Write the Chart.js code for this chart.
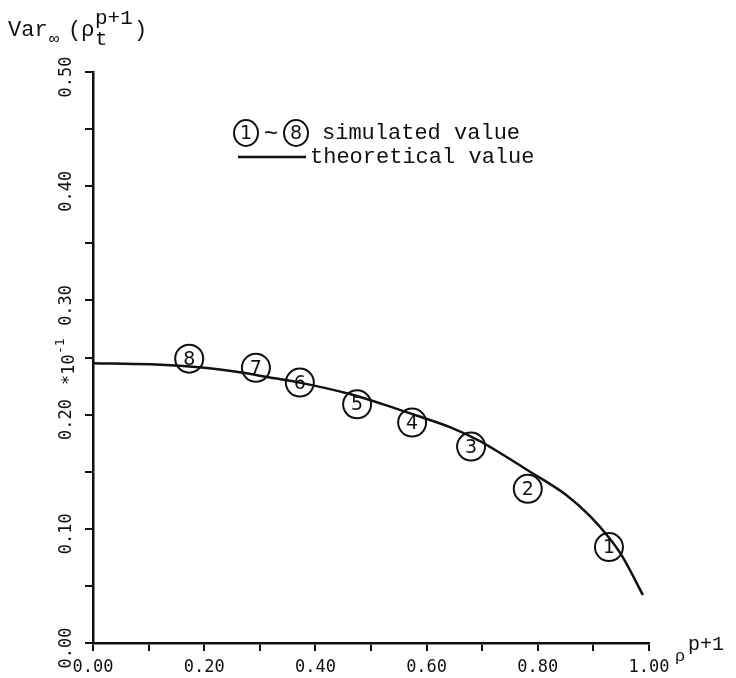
<!DOCTYPE html>
<html>
<head>
<meta charset="utf-8">
<script src="https://cdn.jsdelivr.net/npm/chart.js@4.4.0/dist/chart.umd.min.js"></script>
<style>
  html, body { margin: 0; padding: 0; background: #fff; }
</style>
</head>
<body>
<canvas id="varChart" width="736" height="678"></canvas>
<script>
// theoretical curve
const theoryRho = [0.00, 0.103, 0.20, 0.264, 0.313, 0.372, 0.462, 0.522, 0.583, 0.642, 0.695, 0.730, 0.786, 0.850, 0.894, 0.930, 0.953, 0.989];
const theoryVar = [0.245, 0.244, 0.241, 0.237, 0.233, 0.228, 0.218, 0.209, 0.199, 0.189, 0.177, 0.167, 0.150, 0.130, 0.111, 0.091, 0.075, 0.042];

// simulated values (1) ~ (8)
const simLabels = ['1', '2', '3', '4', '5', '6', '7', '8'];
const simRho = [0.928, 0.782, 0.680, 0.574, 0.475, 0.372, 0.293, 0.173];
const simVar = [0.084, 0.135, 0.172, 0.193, 0.209, 0.228, 0.241, 0.249];

// axis labels
const xTickLabels = ['0.00', '0.20', '0.40', '0.60', '0.80', '1.00'];
const yTickValues = [0.0, 0.1, 0.2, 0.3, 0.4, 0.5];
const yTickLabels = ['0.00', '0.10', '0.20', '0.30', '0.40', '0.50'];

const INK = '#111';
const tickFont = '17px "DejaVu Sans Mono", monospace';
const typeFont = '"Liberation Mono", "Courier New", monospace';

// text that Chart.js can't place where the figure has it
const annotations = {
  id: 'annotations',
  afterDraw(chart) {
    const ctx = chart.ctx;
    const ys = chart.scales.y;
    ctx.save();
    ctx.fillStyle = INK;
    ctx.strokeStyle = INK;

    // rotated y tick labels
    ctx.font = tickFont;
    ctx.textAlign = 'center';
    ctx.textBaseline = 'middle';
    yTickValues.forEach((v, i) => {
      const py = ys.getPixelForValue(v) + 5;
      ctx.save();
      ctx.translate(67, py);
      ctx.rotate(-Math.PI / 2);
      ctx.fillText(yTickLabels[i], 0, 0);
      ctx.restore();
    });

    // *10^-1
    ctx.save();
    ctx.translate(68, 360);
    ctx.rotate(-Math.PI / 2);
    ctx.textAlign = 'left';
    ctx.textBaseline = 'alphabetic';
    ctx.font = tickFont;
    ctx.fillText('*10', -25, 6);
    ctx.font = '13px "DejaVu Sans Mono", monospace';
    ctx.fillText('-1', 6, -4);
    ctx.restore();

    // digits in the simulated markers
    ctx.font = '19px "DejaVu Sans", sans-serif';
    ctx.textAlign = 'center';
    ctx.textBaseline = 'middle';
    chart.getDatasetMeta(1).data.forEach((pt, i) => {
      ctx.fillText(simLabels[i], pt.x, pt.y + 1);
    });

    // legend
    ctx.lineWidth = 2;
    [[246, '1'], [296, '8']].forEach(([cx, d]) => {
      ctx.beginPath();
      ctx.ellipse(cx, 133, 12, 13, 0, 0, Math.PI * 2);
      ctx.stroke();
      ctx.fillText(d, cx, 134);
    });
    ctx.font = '24px ' + typeFont;
    ctx.fillText('~', 271, 135);
    ctx.beginPath();
    ctx.lineWidth = 2.5;
    ctx.moveTo(238, 157);
    ctx.lineTo(306, 157);
    ctx.stroke();
    ctx.font = '22px ' + typeFont;
    ctx.textAlign = 'left';
    ctx.fillText('simulated value', 322, 133);
    ctx.fillText('theoretical value', 310, 157);

    // y title: Var∞(ρ_t^{p+1})
    ctx.textBaseline = 'alphabetic';
    ctx.font = '22px ' + typeFont;
    ctx.fillText('Var', 8, 36);
    ctx.font = '17px ' + typeFont;
    ctx.fillText('\u221e', 49, 44);
    ctx.font = '22px ' + typeFont;
    ctx.fillText('(\u03c1', 68, 36);
    ctx.font = '21px ' + typeFont;
    ctx.fillText('p+1', 95, 24);
    ctx.fillText('t', 95, 45);
    ctx.font = '22px ' + typeFont;
    ctx.fillText(')', 134, 36);

    // x title: ρ^{p+1}
    ctx.font = '17px ' + typeFont;
    ctx.fillText('\u03c1', 675, 661);
    ctx.font = '20px ' + typeFont;
    ctx.fillText('p+1', 688, 650);

    ctx.restore();
  }
};

new Chart(document.getElementById('varChart'), {
  type: 'scatter',
  data: {
    datasets: [
      {
        label: 'theoretical value',
        data: theoryRho.map((r, i) => ({ x: r, y: theoryVar[i] })),
        showLine: true,
        borderColor: INK,
        borderWidth: 2.5,
        pointRadius: 0,
        cubicInterpolationMode: 'monotone',
        fill: false
      },
      {
        label: 'simulated value',
        data: simRho.map((r, i) => ({ x: r, y: simVar[i] })),
        pointStyle: 'circle',
        pointRadius: 14,
        pointBorderWidth: 2,
        borderColor: INK,
        backgroundColor: 'rgba(0,0,0,0)'
      }
    ]
  },
  options: {
    responsive: false,
    animation: false,
    devicePixelRatio: 1,
    layout: { padding: { top: 72, right: 87, left: 0, bottom: 0 } },
    plugins: {
      legend: { display: false },
      tooltip: { enabled: false }
    },
    scales: {
      x: {
        type: 'linear',
        min: 0,
        max: 1,
        grid: { drawOnChartArea: false, drawTicks: true, tickLength: 8, color: INK, lineWidth: 2 },
        border: { color: INK, width: 2.5 },
        ticks: {
          stepSize: 0.1,
          autoSkip: false,
          maxRotation: 0,
          padding: 6,
          color: INK,
          font: { family: '"DejaVu Sans Mono", monospace', size: 17 },
          callback: (v, i) => (i % 2 === 0 ? xTickLabels[i / 2] : '')
        },
        afterFit: s => { s.height = 35; }
      },
      y: {
        type: 'linear',
        min: 0,
        max: 0.5,
        grid: { drawOnChartArea: false, drawTicks: true, tickLength: 8, color: INK, lineWidth: 2 },
        border: { color: INK, width: 2.5 },
        ticks: { stepSize: 0.05, display: false },
        afterFit: s => { s.width = 93; }
      }
    }
  },
  plugins: [annotations]
});
</script>
</body>
</html>
